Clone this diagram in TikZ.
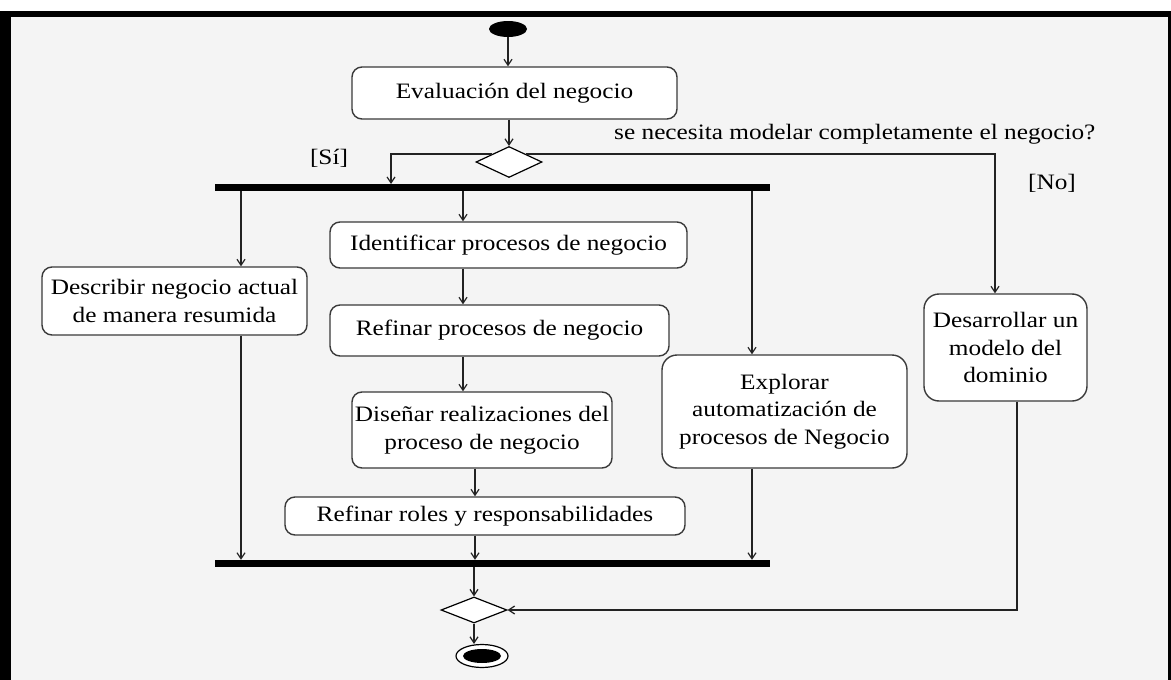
\documentclass[tikz,border=0pt]{standalone}
\usepackage{fontspec}
\setmainfont{Liberation Serif}[FakeStretch=1.15]
\usetikzlibrary{shapes.geometric,arrows.meta,calc}
\definecolor{bggray}{HTML}{F4F4F4}
\definecolor{linegray}{HTML}{222222}
\definecolor{boxedge}{HTML}{3A3A3A}
\tikzset{
  act/.style={draw=boxedge,line width=1.4pt,fill=white,rounded corners=10pt,align=center,inner sep=0pt,
    font=\fontsize{22}{27.5}\selectfont},
  bar/.style={fill=black,draw=none,inner sep=0pt,minimum width=555pt,minimum height=7pt},
  decision/.style={diamond,draw=black,line width=1.2pt,fill=white,inner sep=0pt},
  arr/.style={draw=linegray,line width=1.3pt,-{Straight Barb[length=6pt,width=8pt,line width=1.2pt]}},
  ln/.style={draw=linegray,line width=1.3pt},
  lbl/.style={inner sep=0pt,font=\fontsize{22}{27.5}\selectfont}
}
\begin{document}
\begin{tikzpicture}[x=1pt,y=-1pt]
\useasboundingbox (0,0) rectangle (1171,680);
\fill[white] (0,0) rectangle (1171,680);
\fill[bggray] (0,11) rectangle (1171,680);
% frame
\fill[black] (0,11) rectangle (1171,16.5);
\fill[black] (0,11) rectangle (11,680);
\fill[black] (1168,11) rectangle (1171,680);

% nodes
\node[ellipse,fill=black,inner sep=0pt,minimum width=38pt,minimum height=16pt] (start) at (508,29) {};
\node[act,minimum width=325pt,minimum height=52pt] (eval) at (514.5,93) {Evaluación del negocio};
\node[decision,minimum width=66pt,minimum height=31pt] (d1) at (509,162) {};
\node[bar] (fork) at (492.5,187.5) {};
\node[act,minimum width=357pt,minimum height=46pt] (iden) at (508.5,245) {Identificar procesos de negocio};
\node[act,minimum width=339pt,minimum height=51pt] (refp) at (499.5,330.5) {Refinar procesos de negocio};
\node[act,minimum width=260pt,minimum height=76pt] (dise) at (482,430) {Diseñar realizaciones del\\proceso de negocio};
\node[act,minimum width=400pt,minimum height=38pt] (refr) at (485,516) {Refinar roles y responsabilidades};
\node[act,minimum width=265pt,minimum height=68pt] (desc) at (174.5,301) {Describir negocio actual\\de manera resumida};
\node[act,rounded corners=15pt,minimum width=245pt,minimum height=113pt] (expl) at (784.5,411.5) {Explorar\\automatización de\\procesos de Negocio};
\node[act,rounded corners=15pt,minimum width=163pt,minimum height=107pt] (desa) at (1005.5,347.5) {Desarrollar un\\modelo del\\dominio};
\node[bar] (join) at (492.5,563.5) {};
\node[decision,minimum width=66pt,minimum height=26pt] (d2) at (474,610) {};
\node[ellipse,draw=black,line width=1.2pt,fill=white,inner sep=0pt,minimum width=52pt,minimum height=23pt] (end) at (482,656) {};
\node[ellipse,fill=black,inner sep=0pt,minimum width=38pt,minimum height=14pt] (endin) at (482,656) {};

% labels
\node[lbl,anchor=west] (q) at (614,134) {se necesita modelar completamente el negocio?};
\node[lbl] (si) at (329,158) {[Sí]};
\node[lbl] (no) at (1052,183) {[No]};

\coordinate (sibr) at (391,184);

% connectors
\draw[arr] (start.south) -- (start.south |- eval.north);
\draw[arr] (d1.north |- eval.south) -- (d1.north);
\draw[arr] ($(d1.west)!0.5!(d1.north)$) -| (sibr);
\draw[arr] ($(d1.north)!0.5!(d1.east)$) -| ([xshift=-10.5pt]desa.north);
\draw[arr] ([xshift=66.5pt]desc.north |- fork.south) -- ([xshift=66.5pt]desc.north);
\draw[arr] ([xshift=-45.5pt]iden.north |- fork.south) -- ([xshift=-45.5pt]iden.north);
\draw[arr] ([xshift=-32.5pt]expl.north |- fork.south) -- ([xshift=-32.5pt]expl.north);
\draw[arr] ([xshift=-45.5pt]iden.south) -- ([xshift=-45.5pt]iden.south |- refp.north);
\draw[arr] ([xshift=-19pt]dise.north |- refp.south) -- ([xshift=-19pt]dise.north);
\draw[arr] ([xshift=-7pt]dise.south) -- ([xshift=-7pt]dise.south |- refr.north);
\draw[arr] ([xshift=-10pt]refr.south) -- ([xshift=-10pt]refr.south |- join.north);
\draw[arr] ([xshift=66.5pt]desc.south) -- ([xshift=66.5pt]desc.south |- join.north);
\draw[arr] ([xshift=-32.5pt]expl.south) -- ([xshift=-32.5pt]expl.south |- join.north);
\draw[arr] (d2.north |- join.south) -- (d2.north);
\draw[arr] ([xshift=11.5pt]desa.south) |- (d2.east);
\draw[arr] (d2.south) -- (d2.south |- end.north);
\end{tikzpicture}
\end{document}
